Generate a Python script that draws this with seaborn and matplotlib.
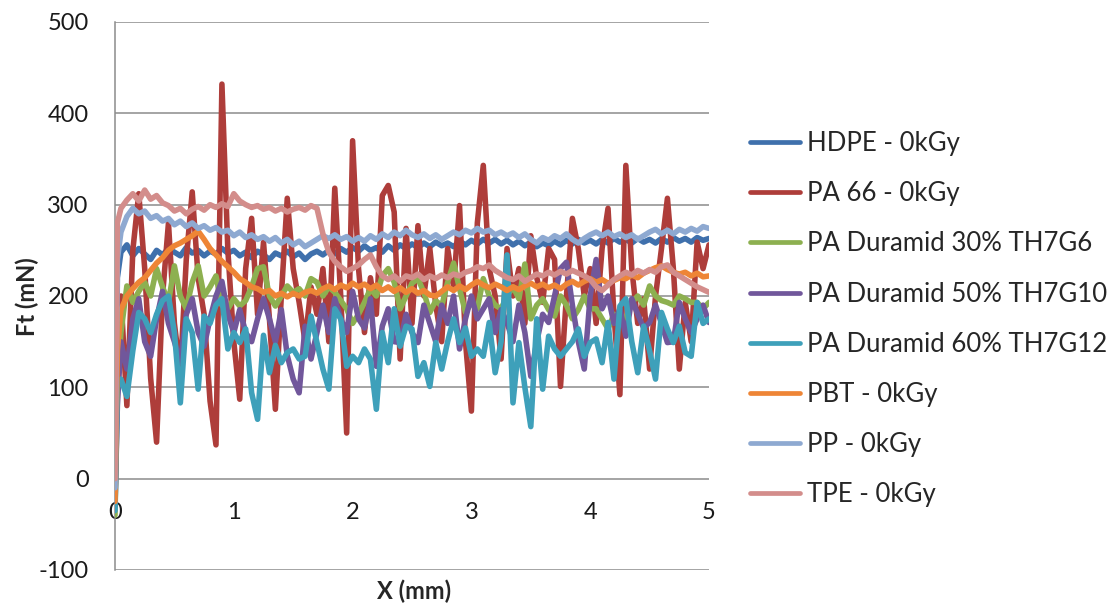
import matplotlib
matplotlib.use("Agg")
import matplotlib.pyplot as plt
import numpy as np
import pandas as pd
import seaborn as sns

# x positions (mm): start point, steep rise, then a 0.05 mm grid
x_mm = [0.0, 0.02] + [round(0.05 * k, 2) for k in range(1, 101)]

hdpe = [-15, 220,
        248, 256, 244, 252, 246, 240, 250, 245, 252, 248,
        244, 253, 247, 250, 244, 249, 246, 252, 247, 250,
        244, 248, 242, 249, 245, 240, 247, 244, 249, 243,
        247, 240, 246, 249, 245, 250, 246, 252, 248, 253,
        249, 255, 250, 253, 248, 255, 250, 256, 252, 257,
        253, 258, 254, 259, 255, 258, 254, 260, 256, 261,
        257, 262, 258, 262, 257, 261, 256, 260, 255, 259,
        254, 258, 255, 260, 256, 261, 257, 262, 258, 261,
        257, 262, 258, 263, 259, 262, 258, 263, 259, 262,
        258, 263, 259, 264, 260, 263, 259, 264, 261, 263]

pa66 = [-10, 150,
        200, 80, 250, 312, 230, 110, 40, 200, 280, 170,
        116, 240, 314, 220, 180, 85, 37, 432, 250, 150,
        87, 230, 285, 180, 259, 175, 76, 200, 307, 230,
        193, 150, 210, 180, 230, 150, 318, 200, 50, 370,
        230, 160, 220, 180, 310, 321, 292, 131, 274, 170,
        277, 200, 252, 190, 150, 252, 210, 299, 150, 74,
        280, 343, 230, 200, 131, 252, 200, 230, 170, 266,
        220, 193, 252, 240, 101, 200, 285, 252, 200, 230,
        170, 252, 296, 180, 92, 343, 230, 170, 197, 120,
        200, 252, 307, 230, 120, 193, 150, 259, 230, 256]

duramid30 = [-40, 100,
             160, 211, 193, 205, 215, 200, 230, 210, 193, 233,
             200, 186, 215, 233, 200, 210, 222, 190, 186, 197,
             189, 195, 210, 230, 232, 200, 189, 200, 211, 204,
             208, 200, 219, 215, 200, 210, 204, 195, 186, 170,
             180, 193, 208, 200, 222, 230, 215, 186, 200, 214,
             219, 204, 182, 195, 189, 215, 236, 208, 182, 193,
             186, 219, 200, 190, 186, 200, 210, 197, 235, 175,
             190, 197, 185, 178, 200, 190, 175, 185, 200, 186,
             186, 175, 164, 180, 175, 175, 193, 200, 190, 211,
             200, 195, 193, 190, 200, 197, 193, 193, 186, 193]

duramid50 = [-30, 80,
             150, 120, 175, 197, 150, 134, 175, 205, 170, 150,
             127, 180, 197, 160, 145, 175, 200, 216, 180, 160,
             185, 160, 150, 175, 197, 175, 150, 185, 135, 109,
             94, 167, 131, 160, 190, 160, 197, 175, 160, 205,
             175, 165, 197, 123, 167, 186, 150, 149, 180, 160,
             149, 190, 170, 150, 190, 170, 200, 142, 175, 200,
             175, 186, 197, 160, 185, 171, 150, 190, 160, 112,
             150, 180, 171, 200, 230, 237, 190, 150, 120, 200,
             240, 186, 200, 170, 186, 156, 197, 180, 165, 171,
             190, 170, 149, 150, 193, 175, 160, 175, 190, 171]

duramid60 = [-35, 100,
             109, 90, 140, 182, 175, 160, 180, 195, 200, 160,
             83, 175, 160, 98, 178, 170, 190, 197, 142, 160,
             149, 164, 94, 65, 157, 116, 146, 127, 138, 142,
             131, 134, 178, 149, 120, 98, 186, 175, 123, 134,
             127, 142, 131, 76, 160, 127, 186, 145, 167, 164,
             112, 127, 101, 149, 120, 150, 175, 149, 165, 134,
             142, 134, 171, 116, 150, 245, 83, 149, 100, 57,
             175, 98, 156, 142, 134, 142, 150, 164, 134, 149,
             153, 127, 171, 109, 189, 197, 150, 116, 167, 140,
             109, 182, 164, 149, 167, 138, 134, 193, 170, 175]

pbt = [-25, 140,
       185, 200, 208, 215, 220, 228, 236, 242, 250, 255,
       258, 262, 266, 271, 262, 252, 245, 238, 232, 226,
       219, 215, 210, 208, 204, 206, 200, 203, 199, 203,
       200, 204, 206, 203, 208, 211, 207, 212, 209, 214,
       210, 213, 208, 212, 206, 210, 205, 209, 204, 208,
       203, 206, 201, 200, 205, 210, 206, 211, 207, 212,
       216, 212, 209, 213, 210, 206, 210, 207, 211, 214,
       210, 213, 209, 212, 208, 213, 216, 212, 216, 219,
       215, 218, 214, 217, 220, 219, 223, 220, 225, 228,
       231, 233, 229, 226, 224, 226, 222, 225, 221, 222]

pp = [-10, 240,
      270, 287, 296, 290, 293, 285, 288, 282, 285, 278,
      282, 276, 280, 274, 277, 272, 275, 270, 272, 266,
      270, 264, 267, 262, 265, 260, 264, 258, 262, 256,
      260, 254, 258, 262, 266, 263, 267, 262, 265, 260,
      264, 260, 266, 262, 268, 264, 270, 266, 272, 267,
      264, 268, 263, 267, 262, 266, 270, 267, 272, 269,
      274, 270, 272, 267, 270, 266, 269, 264, 268, 262,
      258, 264, 261, 266, 263, 268, 262, 258, 263, 267,
      270, 266, 270, 265, 268, 264, 267, 262, 266, 270,
      273, 268, 272, 268, 273, 270, 274, 271, 276, 274]

tpe = [0, 280,
       296, 305, 312, 304, 316, 306, 310, 302, 299, 293,
       296, 290, 295, 298, 294, 300, 297, 301, 298, 312,
       304, 300, 297, 299, 295, 297, 293, 296, 292, 295,
       297, 294, 299, 296, 268, 248, 238, 232, 227, 230,
       234, 240, 245, 232, 222, 218, 222, 216, 222, 220,
       224, 218, 222, 219, 223, 220, 224, 222, 226, 228,
       232, 230, 234, 228, 224, 220, 218, 222, 216, 220,
       224, 222, 226, 223, 227, 224, 228, 225, 222, 218,
       210, 206, 212, 218, 222, 226, 223, 228, 225, 229,
       226, 232, 234, 226, 222, 218, 214, 210, 207, 204]

series_names = ["HDPE - 0kGy", "PA 66 - 0kGy", "PA Duramid 30% TH7G6",
                "PA Duramid 50% TH7G10", "PA Duramid 60% TH7G12",
                "PBT - 0kGy", "PP - 0kGy", "TPE - 0kGy"]
series_values = [hdpe, pa66, duramid30, duramid50, duramid60, pbt, pp, tpe]
colors = ["#3F70AC", "#AE3D3A", "#8DB050", "#71579B", "#3EA0BA",
          "#EE8536", "#8EA9D1", "#D38D8B"]

df = pd.concat([pd.DataFrame({"X": x_mm, "Ft": v, "serie": n})
                for n, v in zip(series_names, series_values)], ignore_index=True)

sns.set_style("white")
plt.rcParams['font.family'] = ['Lato', 'DejaVu Sans']
plt.rcParams['axes.unicode_minus'] = False

fig = plt.figure(figsize=(11.16, 6.08), dpi=100)
ax = fig.add_axes([115 / 1116, 38 / 608, 594 / 1116, 548 / 608])

sns.lineplot(data=df, x="X", y="Ft", hue="serie", hue_order=series_names,
             palette=colors, sort=False, estimator=None, linewidth=4.0,
             legend=False, ax=ax, zorder=3)

ax.set_xlim(0, 5)
ax.set_ylim(-100, 500)
ax.set_yticks(range(-100, 501, 100))
ax.set_xticks(range(0, 6))
grid_c = "#8C8C8C"
for yv in range(-100, 501, 100):
    ax.axhline(yv, color=grid_c, lw=1.1, zorder=1)

for s in ["top", "right"]:
    ax.spines[s].set_visible(False)
ax.spines["left"].set_color(grid_c)
ax.spines["left"].set_linewidth(1.1)
ax.spines["bottom"].set_position(("data", 0))
ax.spines["bottom"].set_visible(False)

ax.tick_params(axis="x", length=0, pad=17, labelsize=17, colors="#1a1a1a")
ax.tick_params(axis="y", length=0, pad=19, labelsize=17, colors="#1a1a1a")

ax.set_xlabel("X (mm)", fontsize=17, fontweight="bold")
ax.set_ylabel("Ft (mN)", fontsize=17, fontweight="bold")
ax.xaxis.set_label_coords(0.503, -0.018)
ax.yaxis.set_label_coords(-0.128, 0.498)

handles = [plt.Line2D([], [], color=c, lw=3.4) for c in colors]
fig.legend(handles, series_names, loc="upper left",
           bbox_to_anchor=(750 / 1116, 1 - 131 / 608), frameon=False,
           fontsize=18.5, handlelength=1.95, handletextpad=0.25,
           labelspacing=0.98, borderpad=0, borderaxespad=0)

fig.savefig("out.png", dpi=100)
